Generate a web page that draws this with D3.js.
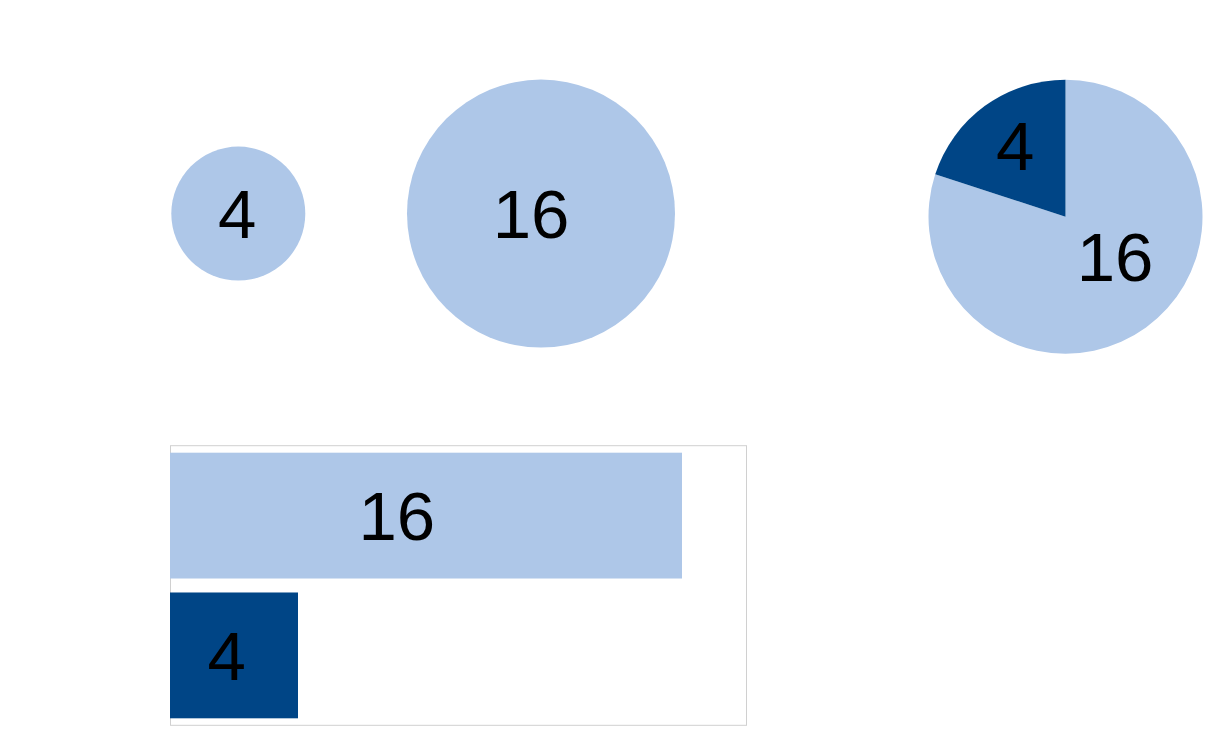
<!DOCTYPE html>
<html>
<head>
<meta charset="utf-8">
<script src="https://cdn.jsdelivr.net/npm/d3@7"></script>
<style>
  html, body { margin: 0; padding: 0; background: #ffffff; }
  svg { display: block; }
  text { font-family: "Liberation Sans", Arial, sans-serif; }
</style>
</head>
<body>
<svg id="chart" width="1222" height="733"></svg>
<script>
// ---- data ----
const categories = ["A", "B"];
const circleValues = [4, 16];
const pieValues = [16, 4];
const barValues = [16, 4];
const barCategories = ["B", "A"];

// ---- style ----
const LIGHT = "#aec7e8";
const DARK = "#004586";
const FONT_SIZE = 69;

const svg = d3.select("#chart");

// ---- bubbles (area ∝ value) ----
const xCircle = d3.scalePoint().domain(categories).range([238.3, 541]);
const rScale = d3.scaleSqrt().domain([0, 16]).range([0, 134]);
const circleLabelDx = [-1, -10];

const circles = svg.append("g");
circles.selectAll("circle")
  .data(circleValues)
  .join("circle")
  .attr("cx", (d, i) => xCircle(categories[i]))
  .attr("cy", 213.6)
  .attr("r", d => rScale(d))
  .attr("fill", LIGHT);
circles.selectAll("text")
  .data(circleValues)
  .join("text")
  .attr("x", (d, i) => xCircle(categories[i]) + circleLabelDx[i])
  .attr("y", 213.6)
  .attr("dy", "0.358em")
  .attr("text-anchor", "middle")
  .attr("font-size", FONT_SIZE)
  .attr("fill", "#000")
  .text(d => d);

// ---- pie ----
const pieCx = 1065.5, pieCy = 216.7, pieR = 137;
const pie = d3.pie().sort(null).value(d => d);
const arcs = pie(pieValues);
const arc = d3.arc().innerRadius(0).outerRadius(pieR);
const pieColors = [LIGHT, DARK];
const labelPolar = [{ r: 63.7, da: -15 * Math.PI / 180 }, { r: 87.5, da: 1 * Math.PI / 180 }];

const pg = svg.append("g").attr("transform", `translate(${pieCx},${pieCy})`);
pg.selectAll("path")
  .data(arcs)
  .join("path")
  .attr("d", arc)
  .attr("fill", (d, i) => pieColors[i]);
pg.selectAll("text")
  .data(arcs)
  .join("text")
  .attr("transform", (d, i) => {
    const a = (d.startAngle + d.endAngle) / 2 + labelPolar[i].da;
    const r = labelPolar[i].r;
    return `translate(${Math.sin(a) * r},${-Math.cos(a) * r})`;
  })
  .attr("dy", "0.358em")
  .attr("text-anchor", "middle")
  .attr("font-size", FONT_SIZE)
  .attr("fill", "#000")
  .text(d => d.data);

// ---- bar chart ----
const frame = { x0: 170, x1: 746, y0: 445.7, y1: 725.3 };
const xBar = d3.scaleLinear().domain([0, 18]).range([frame.x0, frame.x1]);
const yBar = d3.scaleBand().domain(barCategories).range([frame.y0, frame.y1])
  .paddingInner(0.1).paddingOuter(0.05);
const barColors = [LIGHT, DARK];

const bg = svg.append("g");
bg.append("rect")
  .attr("x", frame.x0 + 0.5)
  .attr("y", frame.y0)
  .attr("width", frame.x1 - frame.x0)
  .attr("height", frame.y1 - frame.y0)
  .attr("fill", "none")
  .attr("stroke", "#d0d0d0")
  .attr("stroke-width", 1);
bg.selectAll("rect.bar")
  .data(barValues)
  .join("rect")
  .attr("class", "bar")
  .attr("x", xBar(0))
  .attr("y", (d, i) => yBar(barCategories[i]))
  .attr("width", d => xBar(d) - xBar(0))
  .attr("height", yBar.bandwidth())
  .attr("fill", (d, i) => barColors[i]);
bg.selectAll("text")
  .data(barValues)
  .join("text")
  .attr("x", d => xBar(d * 0.443))
  .attr("y", (d, i) => yBar(barCategories[i]) + yBar.bandwidth() / 2)
  .attr("dy", "0.358em")
  .attr("text-anchor", "middle")
  .attr("font-size", FONT_SIZE)
  .attr("fill", "#000")
  .text(d => d);
</script>
</body>
</html>
